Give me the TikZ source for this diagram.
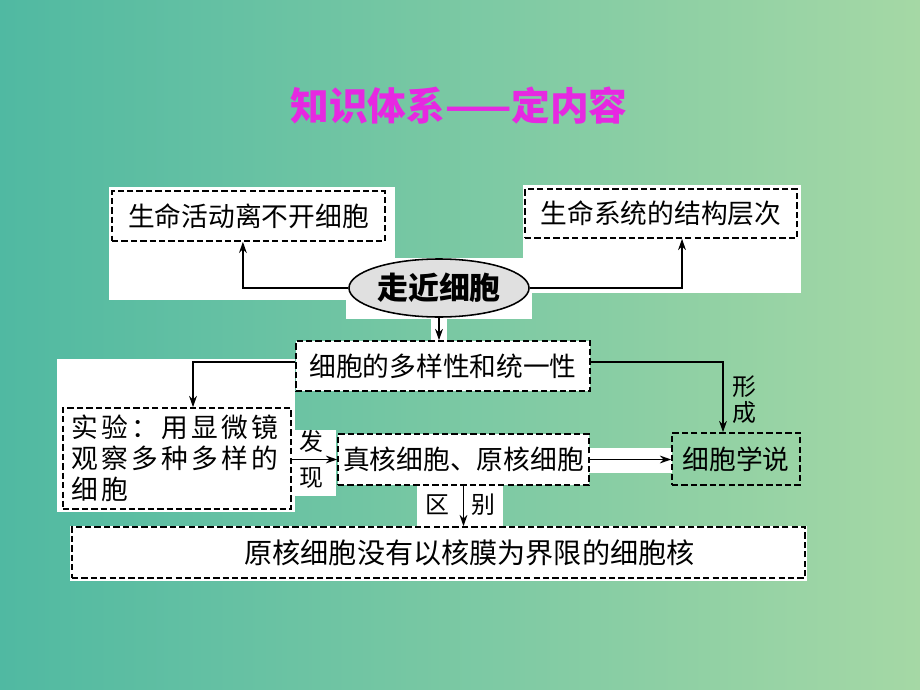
\documentclass[tikz,border=0pt]{standalone}
\usepackage{fontspec}
\setmainfont{Noto Sans CJK SC}
\newfontfamily\widefont[LetterSpace=12]{Noto Sans CJK SC}
\usetikzlibrary{arrows.meta}
\usetikzlibrary{shapes.geometric}
\definecolor{tealbg}{RGB}{80,185,162}
\definecolor{greenbg}{RGB}{165,216,165}
\definecolor{titlemag}{RGB}{230,40,225}
\tikzset{box/.style = {draw, dash pattern=on 4.5pt off 2.2pt, line width=1.1pt, fill=white, inner sep=0, font=\fontsize{19}{22}\selectfont}}
\tikzset{pane/.style = {fill=white}}
\tikzset{arr/.style = {-{Stealth[length=8pt, width=5.5pt]}, line width=1.3pt}}
\tikzset{lbl/.style = {inner sep=0, font=\fontsize{17}{17}\selectfont}}

\begin{document}
\begin{tikzpicture}[x=0.025cm, y=-0.025cm]
    \useasboundingbox (0,0) rectangle (920,690);
    \shade[left color=tealbg, right color=greenbg] (0,0) rectangle (920,690);

    \node[text=titlemag, font=\fontsize{27.5}{28}\selectfont\bfseries] (title) at (459,106) {知识体系——定内容};

    % white panes behind the chart
    \fill[pane] (109,187) rectangle (395,300);
    \fill[pane] (523,185) rectangle (801,293);
    \fill[pane] (346,258) rectangle (532,319);
    \fill[pane] (431,318) rectangle (447,341);
    \fill[pane] (57,359) rectangle (295,512);
    \fill[pane] (293,430) rectangle (336,496);
    \fill[pane] (589,448) rectangle (672,473);
    \fill[pane] (417,485) rectangle (503,527);
    \fill[pane] (70,526) rectangle (807,581);

    \node[box, minimum width=6.825cm, minimum height=1.25cm] (smhd) at (248.5,216) {生命活动离不开细胞};
    \node[box, minimum width=6.8cm, minimum height=1.225cm] (smxt) at (661,213.5) {生命系统的结构层次};
    \node[draw, ellipse, line width=1.1pt, fill=black!12, inner sep=0, minimum width=4.5cm, minimum height=1.45cm,
          font=\fontsize{22}{22}\selectfont\bfseries] (zj) at (439,288) {走近细胞};
    \node[box, minimum width=7.35cm, minimum height=1.25cm] (dyx) at (443,366) {细胞的多样性和统一性};
    \node[box, minimum width=5.7cm, minimum height=2.525cm, inner xsep=0.225cm, text width=5.25cm, align=left] (sy) at (177,458.5)
        {\widefont 实验：用显微镜\\观察多种多样的\\细胞};
    \node[box, minimum width=6.275cm, minimum height=1.275cm] (zh) at (463.5,459.5) {真核细胞、原核细胞};
    \node[box, fill=none, minimum width=3.2cm, minimum height=1.3cm] (xbxs) at (736,459) {细胞学说};
    \node[box, minimum width=18.325cm, minimum height=1.275cm, font=\fontsize{20}{22}\selectfont] (yh) at (438.5,552.5)
        {\hspace*{1.55cm}原核细胞没有以核膜为界限的细胞核};

    \draw[arr] (zj.west) -| ([xshift=-0.14cm]smhd.south);
    \draw[arr] (zj.east) -| ([xshift=0.525cm]smxt.south);
    \draw[arr] (zj.south) -- (zj.south |- dyx.north);
    \draw[arr] ([yshift=0.1cm]dyx.west) -| ([xshift=0.4cm]sy.north);
    \draw[arr] ([yshift=0.1cm]dyx.east) -| ([xshift=-0.325cm]xbxs.north);
    \draw[arr] (zh.west -| sy.east) -- (zh.west);
    \draw[arr] (zh.east) -- (zh.east -| xbxs.west);
    \draw[arr] (zh.south) -- (zh.south |- yh.north);

    \node[lbl] (fa) at (311,441) {发};
    \node[lbl] (xian) at (311,478) {现};
    \node[lbl] (xing) at (744,387) {形};
    \node[lbl] (cheng) at (744,413) {成};
    \node[lbl] (qu) at (437,505) {区};
    \node[lbl] (bie) at (483,505) {别};
\end{tikzpicture}
\end{document}
